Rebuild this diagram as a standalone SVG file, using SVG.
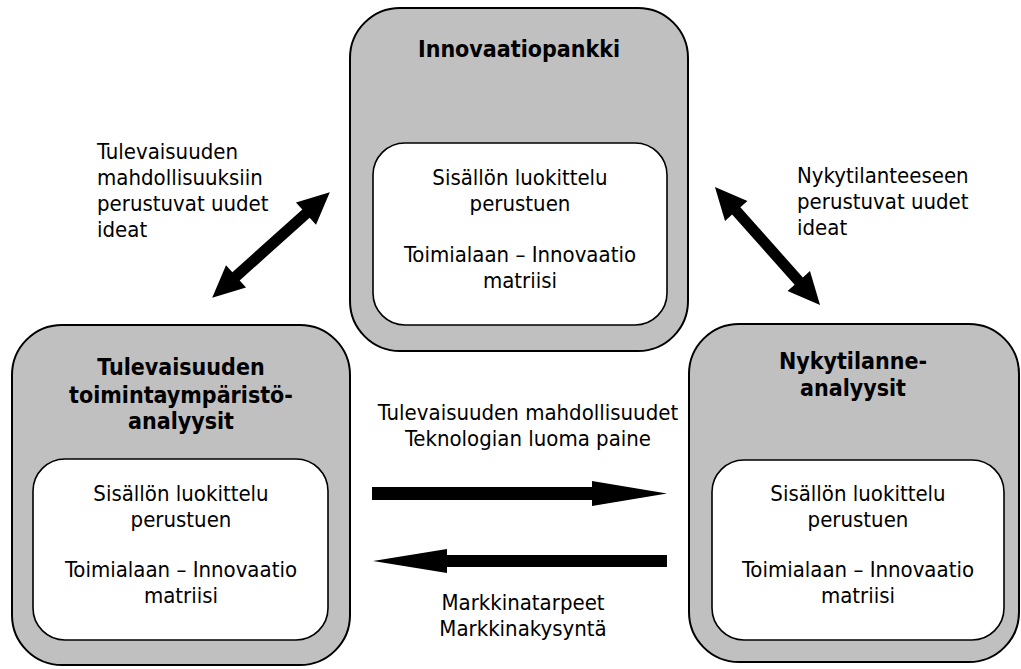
<svg xmlns="http://www.w3.org/2000/svg" width="1021" height="669" viewBox="0 0 1021 669">
  <style>
    .outer { fill: #c0c0c0; stroke: #000; stroke-width: 2; }
    .inner { fill: #fff; stroke: #000; stroke-width: 1.6; }
    text { font-family: "DejaVu Sans Condensed", "DejaVu Sans", sans-serif; font-stretch: condensed; fill: #000; }
    .title { font-size: 23px; font-weight: bold; text-anchor: middle; }
    .body { font-size: 22px; text-anchor: middle; }
    .label { font-size: 22px; }
    .mid { font-size: 22px; text-anchor: middle; }
    .arrow { fill: #000; }
  </style>
  <defs>
    <!-- double-headed arrow centred on the origin, pointing along the x axis -->
    <polygon id="dbl" points="-79,0 -47,-15 -47,-5.5 47,-5.5 47,-15 79,0 47,15 47,5.5 -47,5.5 -47,15"/>
  </defs>

  <g id="innovaatiopankki">
    <rect class="outer" x="350" y="8" width="338" height="343" rx="50" ry="50"/>
    <rect class="inner" x="373" y="143" width="294" height="182" rx="32" ry="32"/>
    <text class="title" x="519" y="57">Innovaatiopankki</text>
    <text class="body" x="520" y="185">Sisällön luokittelu</text>
    <text class="body" x="520" y="211">perustuen</text>
    <text class="body" x="520" y="262">Toimialaan – Innovaatio</text>
    <text class="body" x="520" y="288">matriisi</text>
  </g>

  <g id="tulevaisuuden-analyysit">
    <rect class="outer" x="12" y="325" width="338" height="340" rx="50" ry="50"/>
    <rect class="inner" x="33" y="459" width="295" height="181" rx="32" ry="32"/>
    <text class="title" x="181" y="375">Tulevaisuuden</text>
    <text class="title" x="181" y="403">toimintaympäristö-</text>
    <text class="title" x="181" y="429">analyysit</text>
    <text class="body" x="181" y="501">Sisällön luokittelu</text>
    <text class="body" x="181" y="527">perustuen</text>
    <text class="body" x="181" y="577">Toimialaan – Innovaatio</text>
    <text class="body" x="181" y="603">matriisi</text>
  </g>

  <g id="nykytilanne-analyysit">
    <rect class="outer" x="689" y="324" width="330" height="338" rx="50" ry="50"/>
    <rect class="inner" x="712" y="460" width="292" height="180" rx="32" ry="32"/>
    <text class="title" x="853" y="369">Nykytilanne-</text>
    <text class="title" x="853" y="396">analyysit</text>
    <text class="body" x="858" y="501">Sisällön luokittelu</text>
    <text class="body" x="858" y="527">perustuen</text>
    <text class="body" x="858" y="577">Toimialaan – Innovaatio</text>
    <text class="body" x="858" y="603">matriisi</text>
  </g>

  <g id="connectors">
    <use href="#dbl" class="arrow" transform="translate(271 245) rotate(-41.9)"/>
    <use href="#dbl" class="arrow" transform="translate(767.5 246) rotate(48.3)"/>
    <polygon class="arrow" points="372,487 592,487 592,481 667,493.5 592,506 592,500 372,500"/>
    <polygon class="arrow" points="667,555 447,555 447,549 373,561 447,573 447,567 667,567"/>
  </g>

  <g id="labels">
    <text class="label" x="97" y="159">Tulevaisuuden</text>
    <text class="label" x="97" y="185">mahdollisuuksiin</text>
    <text class="label" x="97" y="211">perustuvat uudet</text>
    <text class="label" x="97" y="237">ideat</text>
    <text class="label" x="797" y="183">Nykytilanteeseen</text>
    <text class="label" x="797" y="209">perustuvat uudet</text>
    <text class="label" x="797" y="235">ideat</text>
    <text class="mid" x="528" y="420">Tulevaisuuden mahdollisuudet</text>
    <text class="mid" x="528" y="446">Teknologian luoma paine</text>
    <text class="mid" x="523" y="610">Markkinatarpeet</text>
    <text class="mid" x="523" y="636">Markkinakysyntä</text>
  </g>
</svg>
